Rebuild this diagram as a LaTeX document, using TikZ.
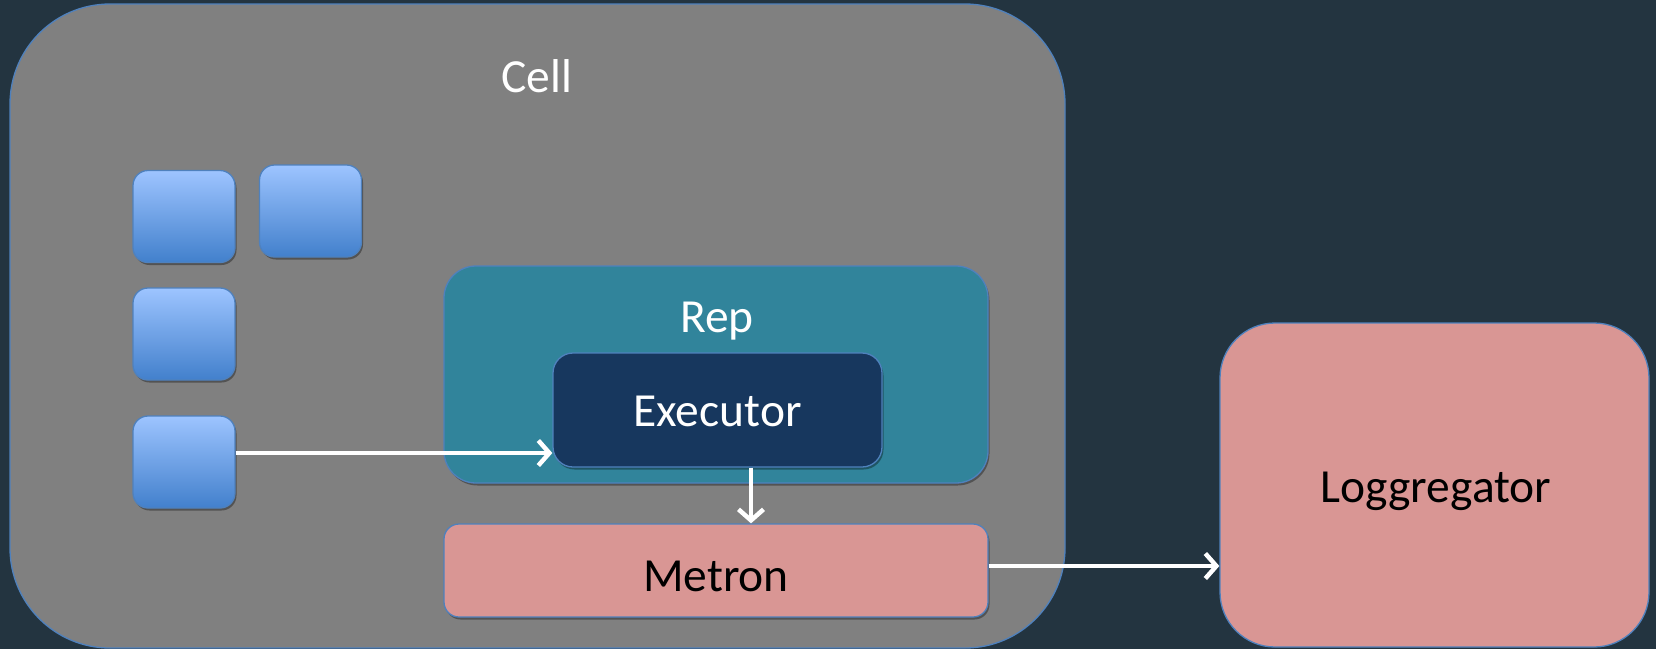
\documentclass[tikz,border=0pt]{standalone}
\usepackage{fontspec}
\setmainfont{Carlito}
\usetikzlibrary{arrows.meta,shadows,calc}
\definecolor{bgc}{RGB}{35,52,64}
\definecolor{cellgray}{RGB}{128,128,128}
\definecolor{edgeblue}{RGB}{79,129,189}
\definecolor{repteal}{RGB}{49,132,155}
\definecolor{exenavy}{RGB}{23,55,94}
\definecolor{pinkbox}{RGB}{217,150,148}
\definecolor{boxtop}{RGB}{157,196,255}
\definecolor{boxbot}{RGB}{66,128,204}
\tikzset{
  bigtext/.style={font=\fontsize{47.5}{56}\selectfont},
  shd/.style={drop shadow={shadow xshift=1.5pt,shadow yshift=-2.5pt,opacity=0.35,fill=black}},
  panel/.style={draw=edgeblue,line width=1.3pt,rectangle,inner sep=0pt},
  minibox/.style={panel,shd,rounded corners=15pt,minimum width=102pt,minimum height=92pt,top color=boxtop,bottom color=boxbot},
  arr/.style={draw=white,line width=4.5pt,-{Straight Barb[length=11pt,width=25pt]}},
}
\begin{document}
\begin{tikzpicture}[x=1pt,y=-1pt]
\useasboundingbox[fill=bgc] (0,0) rectangle (1656,649);
% Cell
\node[panel,fill=cellgray,rounded corners=100pt,minimum width=1055pt,minimum height=644pt] (cell) at (537.5,326) {};
\node[bigtext,text=white,anchor=base] (celltxt) at (537,92) {Cell};
% small boxes
\node[minibox] (b1) at (184,216.5) {};
\node[minibox] (b2) at (310.5,211) {};
\node[minibox] (b3) at (184,334) {};
\node[minibox] (b4) at (184,462) {};
% Rep
\node[panel,shd,fill=repteal,rounded corners=32pt,minimum width=544pt,minimum height=217pt] (rep) at (716,374.5) {};
\node[bigtext,text=white,anchor=base] (reptxt) at (717,332) {Rep};
% Executor
\node[panel,shd,fill=exenavy,rounded corners=20pt,minimum width=329pt,minimum height=114pt] (exe) at (717.5,410) {};
\node[bigtext,text=white,anchor=base] (exetxt) at (717.5,426) {Executor};
% Metron
\node[panel,shd,fill=pinkbox,rounded corners=15pt,minimum width=544pt,minimum height=93pt] (met) at (716,570.5) {};
\node[bigtext,text=black,anchor=base] (mettxt) at (716,591) {Metron};
% Loggregator
\node[panel,fill=pinkbox,rounded corners=55pt,minimum width=429pt,minimum height=324pt] (log) at (1434.5,485) {};
\node[bigtext,text=black,anchor=base] (logtxt) at (1436,502) {Loggregator};
% arrows
\coordinate (ya) at (0,453);
\coordinate (xb) at (751,0);
\coordinate (yc) at (0,566);
\draw[arr] (b4.east |- ya) -- (exe.west |- ya);
\draw[arr] (exe.south -| xb) -- (met.north -| xb);
\draw[arr] (met.east |- yc) -- (log.west |- yc);
\end{tikzpicture}
\end{document}
